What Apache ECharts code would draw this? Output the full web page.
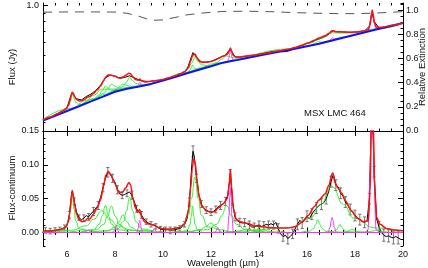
<!DOCTYPE html>
<html><head><meta charset="utf-8">
<script src="https://cdn.jsdelivr.net/npm/echarts@6/dist/echarts.min.js"></script>
<style>html,body{margin:0;padding:0;background:#fff}#c{width:428px;height:268px}</style>
</head><body><div id="c"></div>
<script>
// ---------- axis ticks ----------
const X_MAJOR = [6, 8, 10, 12, 14, 16, 18, 20];
const FLUX_MAJOR = [1.0];
const FLUX_MINOR = [0.2, 0.3, 0.4, 0.5, 0.6, 0.7, 0.8, 0.9];
const EXT_MAJOR = [0, 0.2, 0.4, 0.6, 0.8, 1.0];
const RES_MAJOR = [0, 0.05, 0.10, 0.15];

// ---------- upper panel: continuum (Jy) ----------
const CONT_WAVE = [5,5.5,6,6.5,7,7.5,8,8.5,9,9.5,10,10.5,11,11.5,12,12.5,13,13.5,14,14.5,15,15.5,16,16.5,17,17.5,18,18.5,19,19.5,20];
const CONT_FLUX = [.2032,.2172,.2322,.2481,.2655,.2836,.3029,.3158,.3264,.3378,.3540,.3720,.3910,.4110,.4311,.4531,.4678,.4835,.4993,.5161,.5325,.5497,.5682,.5890,.6138,.6397,.6658,.6940,.7232,.7525,.7845];

// ---------- upper panel: relative extinction ----------
const EXT_WAVE = [5,6,7,8,8.5,9,9.3,9.62,10,10.5,11,11.7,12.5,13.5,14.5,15.5,16.5,17.3,18,18.8,19.5,20];
const EXT_VALUE = [.984,.986,.986,.985,.975,.95,.93,.917,.92,.94,.962,.978,.99,.992,.988,.98,.975,.972,.972,.976,.983,.988];

// ---------- upper panel: observed spectrum (Jy) ----------
const UP_DATA_WAVE = [5.2,5.4,5.6,5.8,6.0,6.2,6.4,6.6,6.8,7.0,7.2,7.4,7.6,7.8,8.0,8.2,8.4,8.6,8.8,9.0,9.2,9.4,9.6,9.8,10.0,10.2,10.4,10.6,10.8,11.0,11.2,11.25,11.4,11.6,11.8,12.0,12.2,12.4,12.6,12.8,13.0,13.2,13.4,13.6,13.8,14.0,14.2,14.4,14.6,14.8,15.0,15.2,15.4,15.6,15.8,16.0,16.2,16.4,16.6,16.8,17.0,17.1,17.2,17.4,17.6,17.8,18.0,18.2,18.4,18.6,18.7,18.8,19.0,19.2,19.4,19.6,19.8];
const UP_DATA_FLUX = [.2098,.2159,.2242,.2322,.2432,.2986,.2749,.2706,.2835,.2935,.3087,.3320,.3675,.3812,.3769,.3651,.3692,.3779,.3682,.3564,.3510,.3495,.3520,.3545,.3580,.3652,.3719,.3808,.3914,.4110,.4990,.5210,.4870,.4570,.4561,.4611,.4739,.4887,.5020,.5479,.4908,.4891,.4949,.4977,.5010,.5103,.5160,.5237,.5304,.5319,.5265,.5304,.5443,.5654,.5748,.5922,.6035,.6208,.6360,.6539,.6888,.7050,.6942,.6925,.6899,.6894,.6908,.6961,.7034,.7498,.9057,.8015,.7312,.7309,.7416,.7509,.7637];

// ---------- total fit (both panels, same wavelengths) ----------
const FIT_WAVE = [5.0,5.3,5.6,5.8,5.95,6.05,6.12,6.18,6.22,6.27,6.32,6.4,6.5,6.63,6.75,6.86,6.95,7.1,7.25,7.4,7.52,7.62,7.72,7.82,7.92,8.02,8.12,8.22,8.32,8.45,8.58,8.65,8.75,8.85,8.95,9.03,9.12,9.25,9.45,9.64,9.8,10.0,10.2,10.45,10.7,10.9,11.05,11.15,11.22,11.28,11.34,11.42,11.5,11.62,11.8,12.0,12.15,12.3,12.5,12.68,12.76,12.81,12.86,12.93,13.05,13.2,13.5,13.8,14.1,14.4,14.8,15.2,15.5,15.8,16.05,16.3,16.5,16.75,16.92,17.03,17.08,17.16,17.3,17.45,17.6,17.85,18.1,18.35,18.55,18.63,18.68,18.72,18.76,18.82,18.9,19.05,19.3,19.6,20.0];
const FIT_UPPER = [.2052,.2141,.2237,.2312,.2387,.2488,.2660,.2900,.3012,.2958,.2824,.2719,.2672,.2686,.2738,.2816,.2837,.2961,.3105,.3280,.3525,.3733,.3821,.3820,.3778,.3744,.3680,.3676,.3711,.3804,.3914,.3890,.3711,.3593,.3554,.3611,.3512,.3471,.3489,.3533,.3550,.3595,.3662,.3758,.3871,.4002,.4230,.4620,.4948,.5112,.5086,.4838,.4640,.4548,.4551,.4611,.4687,.4803,.4944,.5084,.5307,.5552,.5317,.5007,.4894,.4901,.4970,.5030,.5111,.5202,.5324,.5459,.5582,.5758,.5953,.6186,.6370,.6584,.6798,.7014,.7059,.6961,.6943,.6951,.6919,.6900,.6925,.7016,.7140,.7616,.8645,.9368,.8792,.7727,.7394,.7381,.7468,.7624,.7870];
const FIT_LOWER = [.002,.0025,.0035,.005,.008,.015,.03,.052,.062,.055,.04,.027,.019,.016,.017,.021,.02,.027,.036,.048,.068,.085,.09,.086,.078,.071,.062,.059,.06,.066,.074,.07,.05,.036,.03,.034,.022,.015,.012,.011,.0075,.0055,.005,.0055,.0075,.013,.03,.065,.095,.109,.104,.076,.053,.039,.032,.03,.031,.036,.042,.05,.07,.093,.068,.035,.02,.016,.0135,.01,.0085,.0075,.0065,.0065,.0085,.015,.025,.038,.048,.057,.07,.086,.088,.074,.065,.058,.047,.032,.021,.016,.017,.06,.16,.23,.17,.06,.022,.012,.006,.0035,.0025];

// ---------- lower panel: continuum-subtracted spectrum ----------
const DATA_WAVE = [5.1,5.2,5.3,5.4,5.5,5.6,5.7,5.8,5.9,6.0,6.1,6.2,6.3,6.4,6.5,6.6,6.7,6.8,6.9,7.0,7.1,7.2,7.3,7.4,7.5,7.6,7.7,7.8,7.9,8.0,8.1,8.2,8.3,8.4,8.5,8.6,8.7,8.8,8.9,9.0,9.1,9.2,9.3,9.4,9.5,9.6,9.7,9.8,9.9,10.0,10.1,10.2,10.3,10.4,10.5,10.6,10.7,10.8,10.9,11.0,11.1,11.2,11.25,11.3,11.4,11.5,11.6,11.7,11.8,11.9,12.0,12.1,12.2,12.3,12.4,12.5,12.6,12.7,12.8,12.9,13.0,13.1,13.2,13.3,13.4,13.5,13.6,13.7,13.8,13.9,14.0,14.1,14.2,14.3,14.4,14.5,14.6,14.7,14.8,14.9,15.0,15.1,15.2,15.3,15.4,15.5,15.6,15.7,15.8,15.9,16.0,16.1,16.2,16.3,16.4,16.5,16.6,16.7,16.8,16.9,17.0,17.1,17.2,17.3,17.4,17.5,17.6,17.7,17.8,17.9,18.0,18.1,18.2,18.3,18.4,18.5,18.6,18.7,18.8,18.9,19.0,19.1,19.2,19.3,19.4,19.5,19.6,19.7,19.8,19.9];
const DATA_FLUX = [.003,.001,.002,.0015,.003,.004,.004,.006,.007,.011,
 .026,.06,.046,.03,.022,.019,.021,.025,.023,.028,
 .031,.036,.04,.052,.066,.08,.089,.086,.08,.074,
 .063,.057,.055,.056,.058,.06,.055,.046,.035,.03,
 .026,.02,.016,.014,.012,.011,.009,.007,.005,.004,
 .004,.004,.003,.0035,.004,.005,.006,.008,.012,.02,
 .045,.1,.12,
 .113,.08,.055,.042,.036,.033,.031,.03,
 .031,.034,.038,.04,.042,.046,.055,.086,.045,.023,
 .017,.015,.014,.0145,.013,.011,.008,.008,.01,.011,
 .009,.01,.012,.011,.013,.011,.015,.006,-.002,-.006,
 -.004,-.009,-.006,-.002,.005,.012,.018,.014,.02,.024,
 .02,.027,.032,.036,.04,.042,.044,.05,.06,.075,
 .086,.07,.067,.058,.054,.045,.04,.034,.03,.025,
 .022,.019,.016,.015,.017,.05,.2,.09,.02,.008,
 0,-.004,-.006,-.005,-.007,-.008,-.006,-.008,-.01];
const DATA_ERR = [.004,.004,.004,.006,.004,.004,.004,.004,.004,.004,
 .005,.006,.005,.005,.004,.004,.005,.005,.005,.005,
 .006,.005,.006,.006,.006,.007,.007,.006,.006,.006,
 .006,.006,.005,.005,.005,.006,.006,.005,.005,.005,
 .005,.005,.004,.004,.004,.004,.004,.004,.004,.004,
 .004,.004,.005,.004,.004,.004,.004,.004,.004,.005,
 .006,.007,.008,
 .007,.006,.005,.005,.005,.005,.005,.005,
 .005,.005,.005,.006,.006,.006,.006,.007,.006,.006,
 .006,.006,.006,.006,.006,.006,.006,.006,.006,.006,
 .006,.006,.007,.006,.006,.006,.007,.007,.007,.007,
 .007,.008,.007,.007,.007,.008,.008,.008,.008,.008,
 .008,.008,.008,.008,.008,.008,.008,.008,.008,.008,
 .008,.008,.008,.008,.008,.008,.008,.008,.008,.008,
 .008,.008,.008,.008,.008,.008,.008,.008,.008,.008,
 .009,.009,.009,.009,.009,.009,.009,.009,.009];

// ---------- dust (PAH) features: wavelength, lower-panel value, upper-panel total ----------
const G570_X = [5.10,5.40,5.55,5.62,5.70,5.78,5.85,6.00,6.30];
const G570_Y = [.0001,.0003,.0009,.0018,.003,.0018,.0009,.0003,.0001];
const G622_X = [5.65,5.935,6.08,6.144,6.22,6.296,6.36,6.505,6.79];
const G622_Y = [.0015,.0056,.0174,.0342,.056,.0342,.0174,.0056,.0015];
const G622_UP = [.2232,.2359,.2522,.2710,.2952,.2758,.2610,.2540,.2597];
const G669_X = [5.34,6.015,6.35,6.51,6.69,6.87,7.03,7.365,8.04];
const G669_Y = [.0001,.0005,.0016,.003,.005,.003,.0016,.0005,.0001];
const G745_X = [4.90,6.175,6.81,7.11,7.45,7.79,8.09,8.725,10.0];
const G745_Y = [.0009,.0032,.0099,.0195,.032,.0195,.0099,.0032,.0009];
const G745_UP = [.2013,.2410,.2688,.2890,.3139,.3143,.3151,.3238,.3549];
const G760_X = [6.61,7.105,7.35,7.468,7.60,7.732,7.85,8.095,8.59];
const G760_Y = [.0011,.004,.0124,.0244,.040,.0244,.0124,.004,.0011];
const G760_UP = [.2530,.2733,.2906,.3070,.3275,.3170,.3095,.3094,.3188];
const G785_X = [6.59,7.22,7.535,7.682,7.85,8.018,8.165,8.48,9.11];
const G785_Y = [.0011,.0039,.0121,.0238,.039,.0238,.0121,.0039,.0011];
const G785_UP = [.2524,.2773,.2972,.3145,.3361,.3272,.3193,.3190,.3300];
const G833_X = [7.07,7.70,8.015,8.162,8.33,8.498,8.645,8.96,9.59];
const G833_Y = [.0007,.0026,.0081,.0159,.026,.0159,.0081,.0026,.0007];
const G833_UP = [.2687,.2940,.3114,.3230,.3374,.3314,.3270,.3282,.3414];
const G861_X = [7.59,8.10,8.355,8.474,8.61,8.746,8.865,9.12,9.63];
const G861_Y = [.0014,.0052,.0161,.0317,.052,.0317,.0161,.0052,.0014];
const G861_UP = [.2885,.3107,.3281,.3466,.3701,.3527,.3397,.3344,.3434];
const G1068_X = [10.05,10.365,10.52,10.596,10.68,10.764,10.84,10.995,11.31];
const G1068_Y = [.0001,.0003,.0009,.0018,.003,.0018,.0009,.0003,.0001];
const G1123_X = [10.825,11.028,11.129,11.176,11.23,11.284,11.331,11.433,11.635];
const G1123_Y = [.0011,.0039,.0121,.0238,.039,.0238,.0121,.0039,.0011];
const G1123_UP = [.3855,.3960,.4083,.4218,.4392,.4262,.4163,.4122,.4175];
const G1133_X = [10.25,10.79,11.06,11.186,11.33,11.474,11.60,11.87,12.41];
const G1133_Y = [.0022,.0082,.0254,.05,.082,.05,.0254,.0082,.0022];
const G1133_UP = [.3652,.3912,.4188,.4484,.4862,.4600,.4404,.4341,.4513];
const G1199_X = [10.37,11.18,11.585,11.774,11.99,12.206,12.395,12.80,13.61];
const G1199_Y = [.0004,.0014,.0043,.0085,.014,.0085,.0043,.0014,.0004];
const G1199_UP = [.3677,.3996,.4187,.4305,.4447,.4487,.4528,.4633,.4874];
const G1265_X = [11.06,11.855,12.252,12.438,12.65,12.862,13.048,13.445,14.24];
const G1265_Y = [.0011,.004,.0124,.0244,.040,.0244,.0124,.004,.0011];
const G1265_UP = [.3945,.4293,.4546,.4745,.4975,.4881,.4817,.4858,.5084];
const G1348_X = [11.86,12.67,13.075,13.264,13.48,13.696,13.885,14.29,15.10];
const G1348_Y = [.0001,.0005,.0016,.003,.005,.003,.0016,.0005,.0001];
const G1419_X = [13.14,13.665,13.928,14.05,14.19,14.33,14.453,14.715,15.24];
const G1419_Y = [.0001,.0004,.0012,.0024,.004,.0024,.0012,.0004,.0001];
const G1645_X = [15.76,16.105,16.278,16.358,16.45,16.542,16.623,16.795,17.14];
const G1645_Y = [.0005,.0019,.0059,.0116,.019,.0116,.0059,.0019,.0005];
const G1645_UP = [.5598,.5745,.5856,.5947,.6061,.6029,.6010,.6056,.6216];
const G1704_X = [13.44,15.24,16.14,16.56,17.04,17.52,17.94,18.84,20.0];
const G1704_Y = [.0018,.0068,.0211,.0415,.068,.0415,.0211,.0068,.0019];
const G1704_UP = [.4835,.5476,.5951,.6337,.6839,.6822,.6838,.7206,.7864];
const G1738_X = [16.745,17.06,17.218,17.291,17.375,17.459,17.533,17.69,18.005];
const G1738_Y = [.0003,.0012,.0037,.0073,.012,.0073,.0037,.0012,.0003];
const G1738_UP = [.6015,.6181,.6288,.6362,.6452,.6449,.6451,.6508,.6664];
const G1787_X = [17.03,17.45,17.66,17.758,17.87,17.982,18.08,18.29,18.71];
const G1787_Y = [.0001,.0005,.0016,.003,.005,.003,.0016,.0005,.0001];
const G1892_X = [17.84,18.38,18.65,18.776,18.92,19.064,19.19,19.46,20.0];
const G1892_Y = [.0001,.0004,.0012,.0024,.004,.0024,.0012,.0004,.0001];

// ---------- gas lines ----------
const L688_X = [6.68,6.76,6.82,6.85,6.88,6.91,6.94,7.00,7.08];
const L688_Y = [0,.0001,.0015,.0031,.004,.0031,.0015,.0001,0];
const L805_X = [7.85,7.93,7.99,8.02,8.05,8.08,8.11,8.17,8.25];
const L805_Y = [0,.0002,.0037,.0078,.010,.0078,.0037,.0002,0];
const L805_UP = [.2971,.3004,.3062,.3112,.3142,.3128,.3095,.3075,.3094];
const L903_X = [8.83,8.91,8.97,9.00,9.03,9.06,9.09,9.15,9.23];
const L903_Y = [0,.0003,.0067,.014,.018,.014,.0067,.0003,0];
const L903_UP = [.3228,.3248,.3325,.3404,.3451,.3418,.3352,.3302,.3317];
const L964_X = [9.44,9.52,9.58,9.61,9.64,9.67,9.70,9.76,9.84];
const L964_Y = [0,.0001,.0022,.0047,.006,.0047,.0022,.0001,0];
const L1228_X = [12.08,12.16,12.22,12.25,12.28,12.31,12.34,12.40,12.48];
const L1228_Y = [0,.0001,.0026,.0055,.007,.0055,.0026,.0001,0];
const L1281_X = [12.61,12.69,12.75,12.78,12.81,12.84,12.87,12.93,13.01];
const L1281_Y = [0,.0012,.0248,.0523,.067,.0523,.0248,.0012,0];
const L1281_UP = [.4563,.4599,.4852,.5136,.5292,.5154,.4888,.4669,.4681];
const L1705_X = [16.77,16.88,16.966,17.008,17.05,17.092,17.134,17.218,17.33];
const L1705_Y = [0,.0004,.0081,.0172,.022,.0172,.0081,.0004,0];
const L1705_UP = [.6024,.6083,.6202,.6314,.6384,.6358,.6289,.6255,.6309];
const L1871_X = [18.43,18.54,18.626,18.668,18.71,18.752,18.794,18.878,18.99];
const L1871_Y = [0,.0038,.0777,.1638,.21,.1638,.0777,.0038,0];
const L1871_UP = [.6901,.7002,.7790,.8676,.9162,.8725,.7888,.7199,.7226];
const LINE_BASE_X = [5, 20];
const LINE_BASE_Y = [0, 0];

// ---------- build ----------
const pairs = (xs, ys) => xs.map((x, i) => [x, ys[i]]);
const GREEN_LOWER = [[G570_X,G570_Y],[G622_X,G622_Y],[G669_X,G669_Y],[G745_X,G745_Y],[G760_X,G760_Y],[G785_X,G785_Y],[G833_X,G833_Y],[G861_X,G861_Y],[G1068_X,G1068_Y],[G1123_X,G1123_Y],[G1133_X,G1133_Y],[G1199_X,G1199_Y],[G1265_X,G1265_Y],[G1348_X,G1348_Y],[G1419_X,G1419_Y],[G1645_X,G1645_Y],[G1704_X,G1704_Y],[G1738_X,G1738_Y],[G1787_X,G1787_Y],[G1892_X,G1892_Y]];
const GREEN_UPPER = [[G622_X,G622_UP],[G745_X,G745_UP],[G760_X,G760_UP],[G785_X,G785_UP],[G833_X,G833_UP],[G861_X,G861_UP],[G1123_X,G1123_UP],[G1133_X,G1133_UP],[G1199_X,G1199_UP],[G1265_X,G1265_UP],[G1645_X,G1645_UP],[G1704_X,G1704_UP],[G1738_X,G1738_UP]];
const MAG_LOWER = [[L688_X,L688_Y],[L805_X,L805_Y],[L903_X,L903_Y],[L964_X,L964_Y],[L1228_X,L1228_Y],[L1281_X,L1281_Y],[L1705_X,L1705_Y],[L1871_X,L1871_Y],[LINE_BASE_X,LINE_BASE_Y]];
const MAG_UPPER = [[L805_X,L805_UP],[L903_X,L903_UP],[L1281_X,L1281_UP],[L1705_X,L1705_UP],[L1871_X,L1871_UP]];

const FONT = 'Liberation Sans, Arial, sans-serif';
const TXT = '#111';
const L = 43, W = 360;
const UP = {xAxisIndex: 0, yAxisIndex: 0};
const LO = {xAxisIndex: 4, yAxisIndex: 4};
const lineBase = {type: 'line', symbol: 'none', silent: true, animation: false};

function xAx(grid, pos, major, withLabels) {
  return {
    gridIndex: grid, type: 'value', min: 5, max: 20, position: pos,
    interval: major ? undefined : 0.5,
    axisLine: {show: major, lineStyle: {color: '#000', width: 1}},
    axisTick: {show: true, inside: true, length: major ? 5 : 2.5,
      customValues: major ? X_MAJOR : undefined, lineStyle: {color: '#000', width: 1}},
    axisLabel: withLabels ? {show: true, customValues: X_MAJOR, margin: 4, fontSize: 9, color: TXT, fontFamily: FONT} : {show: false},
    splitLine: {show: false}
  };
}
const xAxis = [
  xAx(0, 'bottom', true, false), xAx(0, 'top', true, false),
  xAx(0, 'bottom', false, false), xAx(0, 'top', false, false),
  xAx(1, 'bottom', true, true), xAx(1, 'top', true, false),
  xAx(1, 'bottom', false, false), xAx(1, 'top', false, false)
];
const tick = (len, vals) => ({show: true, inside: true, length: len, customValues: vals, lineStyle: {color: '#000', width: 1}});
const yAxis = [
  {gridIndex: 0, type: 'log', logBase: 10, min: 0.1762, max: 1.0336, position: 'left',
   axisLine: {show: true, lineStyle: {color: '#000'}}, axisTick: tick(5, FLUX_MAJOR),
   axisLabel: {customValues: FLUX_MAJOR, formatter: v => Number(v).toFixed(1), margin: 4, fontSize: 9, color: TXT, fontFamily: FONT},
   splitLine: {show: false}},
  {gridIndex: 0, type: 'log', logBase: 10, min: 0.1762, max: 1.0336, position: 'left',
   axisLine: {show: false}, axisTick: tick(2.5, FLUX_MINOR), axisLabel: {show: false}, splitLine: {show: false}},
  {gridIndex: 0, type: 'value', min: 0, max: 1.06, position: 'right',
   axisLine: {show: true, lineStyle: {color: '#000'}}, axisTick: tick(5, EXT_MAJOR),
   axisLabel: {customValues: EXT_MAJOR, formatter: v => Number(v).toFixed(1), margin: 3, fontSize: 9, color: TXT, fontFamily: FONT},
   splitLine: {show: false}},
  {gridIndex: 0, type: 'value', min: 0, max: 1.06, interval: 0.05, position: 'right',
   axisLine: {show: false}, axisTick: {show: true, inside: true, length: 2.5, lineStyle: {color: '#000'}}, axisLabel: {show: false}, splitLine: {show: false}},
  {gridIndex: 1, type: 'value', min: -0.02, max: 0.15, position: 'left',
   axisLine: {show: true, lineStyle: {color: '#000'}}, axisTick: tick(5, RES_MAJOR),
   axisLabel: {customValues: RES_MAJOR, formatter: v => Number(v).toFixed(2), margin: 4, fontSize: 9, color: TXT, fontFamily: FONT},
   splitLine: {show: false}},
  {gridIndex: 1, type: 'value', min: -0.02, max: 0.15, interval: 0.01, position: 'left',
   axisLine: {show: false}, axisTick: {show: true, inside: true, length: 2.5, lineStyle: {color: '#000'}}, axisLabel: {show: false}, splitLine: {show: false}},
  {gridIndex: 1, type: 'value', min: -0.02, max: 0.15, position: 'right',
   axisLine: {show: true, lineStyle: {color: '#000'}}, axisTick: tick(5, RES_MAJOR), axisLabel: {show: false}, splitLine: {show: false}},
  {gridIndex: 1, type: 'value', min: -0.02, max: 0.15, interval: 0.01, position: 'right',
   axisLine: {show: false}, axisTick: {show: true, inside: true, length: 2.5, lineStyle: {color: '#000'}}, axisLabel: {show: false}, splitLine: {show: false}}
];

const series = [];
// upper panel
series.push(Object.assign({}, lineBase, {xAxisIndex: 0, yAxisIndex: 2, data: pairs(EXT_WAVE, EXT_VALUE),
  lineStyle: {color: '#555', width: 1, type: [9, 7]}, z: 1}));
series.push(Object.assign({}, lineBase, UP, {data: pairs(UP_DATA_WAVE, UP_DATA_FLUX), lineStyle: {color: '#000', width: 1}, z: 2}));
GREEN_UPPER.forEach(([xs, ys]) => series.push(Object.assign({}, lineBase, UP, {data: pairs(xs, ys), smooth: 0.5, smoothMonotone: 'x', lineStyle: {color: '#22ee22', width: 0.9}, z: 3})));
MAG_UPPER.forEach(([xs, ys]) => series.push(Object.assign({}, lineBase, UP, {data: pairs(xs, ys), smooth: 0.4, smoothMonotone: 'x', lineStyle: {color: '#ff33ff', width: 0.9}, z: 4})));
series.push(Object.assign({}, lineBase, UP, {data: pairs(CONT_WAVE, CONT_FLUX), lineStyle: {color: '#1010ff', width: 2}, z: 5}));
series.push(Object.assign({}, lineBase, UP, {data: pairs(FIT_WAVE, FIT_UPPER), smooth: 0.3, smoothMonotone: 'x', lineStyle: {color: '#ff1010', width: 1.5}, z: 6}));
// lower panel
series.push({type: 'custom', xAxisIndex: 4, yAxisIndex: 4, silent: true, animation: false, z: 2,
  data: DATA_WAVE.map((x, i) => [x, DATA_FLUX[i], DATA_ERR[i]]).filter((d, i) => i % 2 === 0),
  renderItem: (params, api) => {
    const x = api.value(0), y = api.value(1), e = api.value(2);
    const cs = params.coordSys;
    const p1 = api.coord([x, y + e]), p2 = api.coord([x, y - e]);
    const top = Math.max(p1[1], cs.y), bot = Math.min(p2[1], cs.y + cs.height);
    if (top >= bot) return null;
    const st = {stroke: '#555', lineWidth: 0.8};
    const c = 1.6;
    const ch = [{type: 'line', shape: {x1: p1[0], y1: top, x2: p1[0], y2: bot}, style: st}];
    if (p1[1] >= cs.y) ch.push({type: 'line', shape: {x1: p1[0] - c, y1: p1[1], x2: p1[0] + c, y2: p1[1]}, style: st});
    if (p2[1] <= cs.y + cs.height) ch.push({type: 'line', shape: {x1: p2[0] - c, y1: p2[1], x2: p2[0] + c, y2: p2[1]}, style: st});
    return {type: 'group', children: ch};
  }});
series.push(Object.assign({}, lineBase, LO, {data: pairs(DATA_WAVE, DATA_FLUX), lineStyle: {color: '#000', width: 1}, z: 3}));
GREEN_LOWER.forEach(([xs, ys]) => series.push(Object.assign({}, lineBase, LO, {data: pairs(xs, ys), smooth: 0.5, smoothMonotone: 'x', lineStyle: {color: '#22ee22', width: 0.9}, z: 4})));
MAG_LOWER.forEach(([xs, ys]) => series.push(Object.assign({}, lineBase, LO, {data: pairs(xs, ys), smooth: 0.4, smoothMonotone: 'x', lineStyle: {color: '#ff33ff', width: 1}, z: 5})));
series.push(Object.assign({}, lineBase, LO, {data: pairs(FIT_WAVE, FIT_LOWER), smooth: 0.3, smoothMonotone: 'x', lineStyle: {color: '#ff1010', width: 1.5}, z: 6}));

const txt = (text, x, y, rot, size, align) => ({type: 'text', x: x, y: y, rotation: rot, silent: true, z: 10,
  style: {text: text, fontSize: size, fontFamily: FONT, fill: TXT, align: align || 'center', verticalAlign: 'middle'}});

const chart = echarts.init(document.getElementById('c'), null, {renderer: 'canvas'});
chart.setOption({
  animation: false,
  backgroundColor: '#fff',
  textStyle: {fontFamily: FONT},
  grid: [
    {left: L, top: 3, width: W, height: 128, containLabel: false},
    {left: L, top: 131, width: W, height: 115, containLabel: false}
  ],
  xAxis: xAxis,
  yAxis: yAxis,
  series: series,
  graphic: [
    txt('Flux (Jy)', 12, 67, Math.PI / 2, 9.5),
    txt('Flux-continuum', 12, 188, Math.PI / 2, 9.5),
    txt('Relative Extinction', 422, 67, Math.PI / 2, 9.5),
    txt('Wavelength (\u00b5m)', 223, 263, 0, 9.5),
    txt('MSX LMC 464', 304, 113, 0, 9.5, 'left')
  ]
});
</script>
</body></html>
